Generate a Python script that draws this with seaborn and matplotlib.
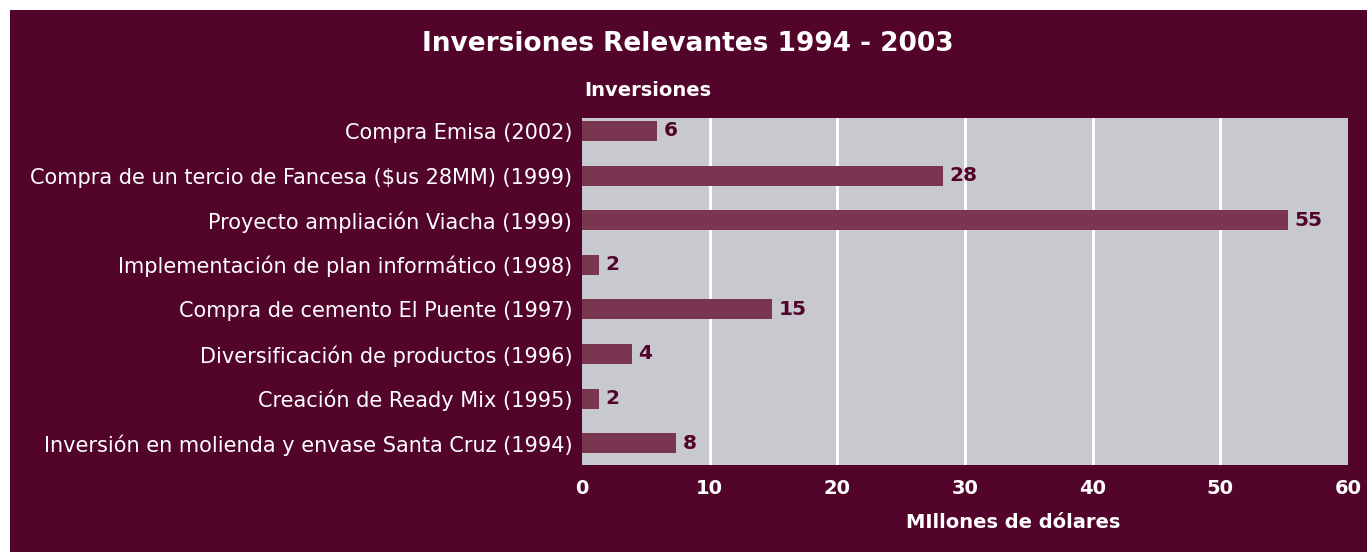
import matplotlib
matplotlib.use("Agg")
import matplotlib.pyplot as plt
import seaborn as sns
import pandas as pd
from matplotlib.patches import Rectangle

categories = [
    "Compra Emisa (2002)",
    "Compra de un tercio de Fancesa ($us 28MM) (1999)",
    "Proyecto ampliación Viacha (1999)",
    "Implementación de plan informático (1998)",
    "Compra de cemento El Puente (1997)",
    "Diversificación de productos (1996)",
    "Creación de Ready Mix (1995)",
    "Inversión en molienda y envase Santa Cruz (1994)",
]
values = [5.9, 28.3, 55.3, 1.3, 14.9, 3.9, 1.3, 7.4]
value_labels = ["6", "28", "55", "2", "15", "4", "2", "8"]
xticks = [0, 10, 20, 30, 40, 50, 60]

BG = "#52042a"
PANEL = "#c8c9ce"
BAR = "#7a3651"
LABEL = "#52042a"

sns.set_theme(style="white")
plt.rcParams['font.family'] = ['DejaVu Sans']

fig = plt.figure(figsize=(13.72, 5.52), dpi=100)
fig.patch.set_facecolor("white")
fig.patches.append(Rectangle((10/1372, 0), (1367-10)/1372, (552-10)/552,
                             transform=fig.transFigure, facecolor=BG,
                             edgecolor="none", zorder=-10))

ax = fig.add_axes([582/1372, (552-465)/552, (1348-582)/1372, (465-118)/552])
ax.set_facecolor(PANEL)

df = pd.DataFrame({"cat": categories, "val": values})
sns.barplot(data=df, x="val", y="cat", color=BAR, width=0.45, saturation=1,
            ax=ax, zorder=3, orient="h", linewidth=0, edgecolor="none")

ax.set_xlim(0, 60)
ax.set_ylim(7.49, -0.29)
ax.set_xticks(xticks)
ax.set_xticklabels([str(t) for t in xticks])
for t in xticks[1:-1]:
    ax.axvline(t, color="white", lw=2, zorder=1)

for i, (v, lab) in enumerate(zip(values, value_labels)):
    ax.text(v + 0.5, i, lab, va="center", ha="left", color=LABEL,
            fontsize=14.5, fontweight="bold", zorder=4)

for s in ax.spines.values():
    s.set_visible(False)
ax.tick_params(axis="both", length=0, colors="white")
ax.tick_params(axis="x", pad=10, labelsize=14)
ax.tick_params(axis="y", pad=7, labelsize=15)
for lab in ax.get_xticklabels():
    lab.set_fontweight("bold")
ax.set_xlabel("")
ax.set_ylabel("")

fig.text(688/1372, 1 - 44/552, "Inversiones Relevantes 1994 - 2003",
         ha="center", va="center", color="white", fontsize=19, fontweight="bold")
fig.text(584/1372, 1 - 91/552, "Inversiones", ha="left", va="center",
         color="white", fontsize=14, fontweight="bold")
fig.text(1120/1372, 1 - 523/552, "MIllones de dólares", ha="right", va="center",
         color="white", fontsize=14, fontweight="bold")

fig.savefig("out.png", dpi=100, facecolor=fig.get_facecolor())
